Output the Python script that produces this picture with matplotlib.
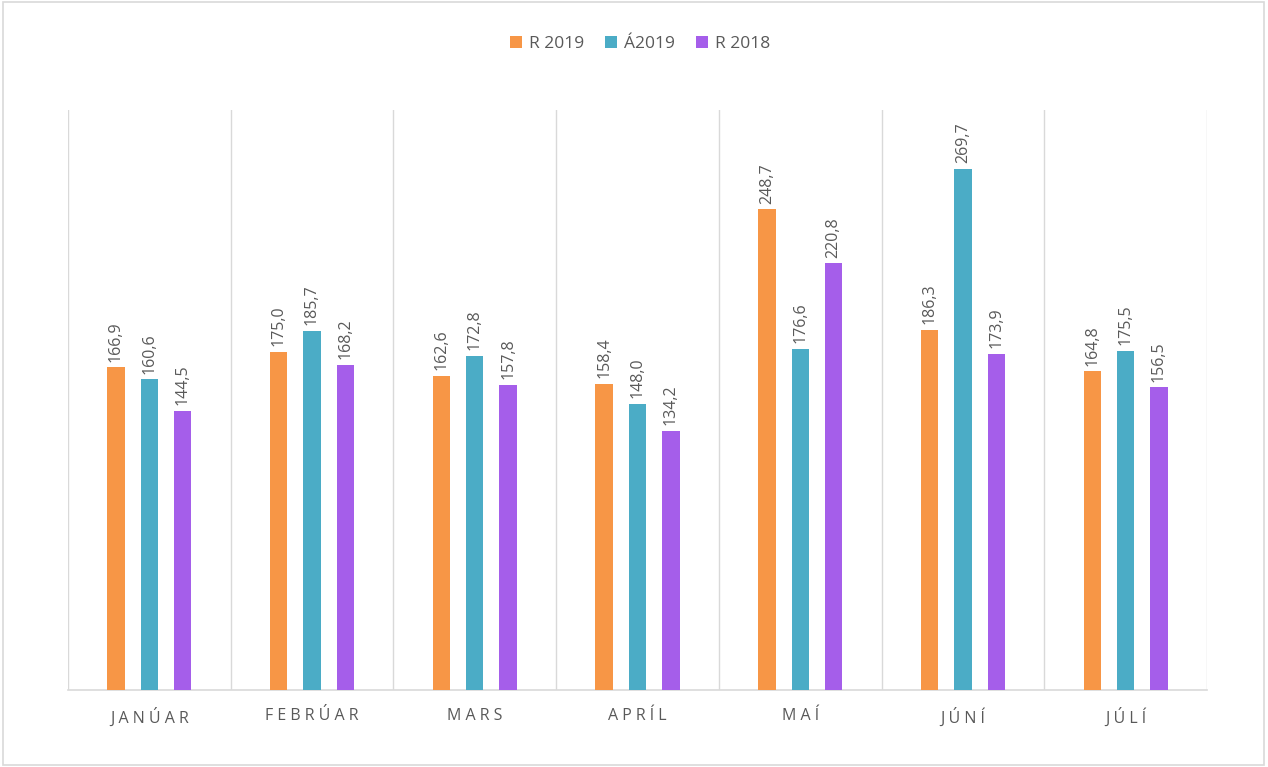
import numpy as np
import matplotlib.pyplot as plt
from matplotlib.patches import Rectangle

# data
months = ["JANÚAR", "FEBRÚAR", "MARS", "APRÍL", "MAÍ", "JÚNÍ", "JÚLÍ"]
r2019 = [166.9, 175.0, 162.6, 158.4, 248.7, 186.3, 164.8]
a2019 = [160.6, 185.7, 172.8, 148.0, 176.6, 269.7, 175.5]
r2018 = [144.5, 168.2, 157.8, 134.2, 220.8, 173.9, 156.5]
series_names = ["R 2019", "Á2019", "R 2018"]

colors = ["#F79646", "#4BACC6", "#A55EEA"]
txt_col = "#595959"
grid_col = "#D9D9D9"

plt.rcParams['font.family'] = ['Open Sans', 'DejaVu Sans']

fig = plt.figure(figsize=(12.68, 7.67), dpi=100)
ax = fig.add_axes([0.0536, 0.1004, 0.8983, 0.7562])

x = np.arange(len(months))
w = 0.107
off = 0.205
for i, (vals, name) in enumerate(zip([r2019, a2019, r2018], series_names)):
    pos = x + (i - 1) * off
    bars = ax.bar(pos, vals, width=w, color=colors[i], label=name, zorder=3)
    for b, v in zip(bars, vals):
        ax.annotate(f"{v:.1f}".replace(".", ","),
                    (b.get_x() + b.get_width() / 2, v),
                    xytext=(0, 4), textcoords="offset points",
                    rotation=90, ha="center", va="bottom",
                    fontsize=11.5, color=txt_col)

ax.set_xlim(-0.5, len(months) - 0.5)
ax.set_ylim(0, 300)
ax.set_yticks([])
ax.set_xticks(x)
ax.set_xticklabels([" ".join(m) for m in months], fontsize=11.5, color=txt_col)
ax.tick_params(axis="x", length=0, pad=13)

# category separators
for s in np.arange(-0.5, len(months), 1.0):
    ax.axvline(s, color=grid_col, lw=1, zorder=1)
for side in ["top", "left", "right"]:
    ax.spines[side].set_visible(False)
ax.spines["bottom"].set_color(grid_col)
ax.spines["bottom"].set_linewidth(1.2)

leg = fig.legend(loc="center", bbox_to_anchor=(0.505, 0.943), ncol=3,
                 frameon=False, fontsize=12.5, handlelength=0.7, handleheight=0.7,
                 handletextpad=0.4, columnspacing=1.2, labelcolor=txt_col)

fig.patches.append(Rectangle((0.002, 0.002), 0.995, 0.995, transform=fig.transFigure,
                             fill=False, edgecolor=grid_col, lw=1.2))

fig.savefig("out.png", dpi=100)
